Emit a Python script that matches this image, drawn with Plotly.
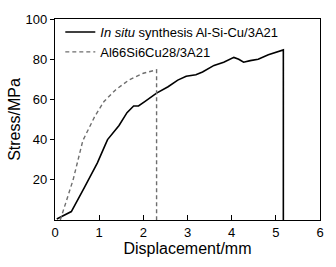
import plotly.graph_objects as go

solid_x = [0.04, 0.37, 0.67, 0.96, 1.13, 1.19, 1.45, 1.63, 1.78, 1.89, 2.04, 2.30, 2.56, 2.78, 2.97,
           3.19, 3.34, 3.60, 3.82, 4.05, 4.16, 4.27, 4.42, 4.60, 4.83, 5.01, 5.17, 5.17]
solid_y = [0.5, 4.2, 16.3, 28.4, 37.0, 40.0, 47.0, 53.4, 56.7, 56.7, 59.0, 63.1, 66.3, 69.6, 71.5,
           72.3, 73.6, 76.9, 78.5, 80.9, 80.0, 78.5, 79.3, 80.0, 82.2, 83.6, 84.6, 0.0]

dash_x = [0.12, 0.41, 0.63, 0.80, 0.90, 1.11, 1.37, 1.67, 2.00, 2.30, 2.30]
dash_y = [0.0, 20.0, 39.5, 47.0, 51.5, 59.0, 64.7, 69.6, 73.0, 74.7, 0.0]

x_ticks = [0, 1, 2, 3, 4, 5, 6]
y_ticks = [20, 40, 60, 80, 100]

fig = go.Figure()
fig.add_trace(go.Scatter(x=solid_x, y=solid_y, mode="lines",
                         name="<i>In situ</i> synthesis Al-Si-Cu/3A21",
                         line=dict(color="black", width=1.6)))
fig.add_trace(go.Scatter(x=dash_x, y=dash_y, mode="lines",
                         name="Al66Si6Cu28/3A21",
                         line=dict(color="#6e6e6e", width=1.4, dash="4px,3px")))

font = dict(family="Liberation Sans, Arial, sans-serif", size=13, color="black")
fig.update_layout(
    width=336, height=267,
    margin=dict(l=55, r=12, t=16, b=45),
    paper_bgcolor="white", plot_bgcolor="white",
    font=font,
    showlegend=True,
    legend=dict(x=0.02, y=1.01, xanchor="left", yanchor="top",
                bgcolor="rgba(0,0,0,0)", font=dict(size=13),
                tracegroupgap=0, itemwidth=30),
    xaxis=dict(range=[0, 6], tickvals=x_ticks, ticks="inside", ticklen=5,
               tickcolor="black", showline=True, linecolor="black", linewidth=1.3,
               mirror=True, showgrid=False, zeroline=False,
               title=dict(text="Displacement/mm", standoff=4),
               tickfont=dict(size=13)),
    yaxis=dict(range=[0, 100], tickvals=y_ticks, ticks="outside", ticklen=4,
               tickcolor="black", showline=True, linecolor="black", linewidth=1.3,
               mirror=True, showgrid=False, zeroline=False,
               title=dict(text="Stress/MPa", standoff=0),
               tickfont=dict(size=13)),
)
fig.write_html("out.html",
               config={"displayModeBar": False},
               post_script="document.body.style.margin='0px';document.body.style.padding='0px';")
